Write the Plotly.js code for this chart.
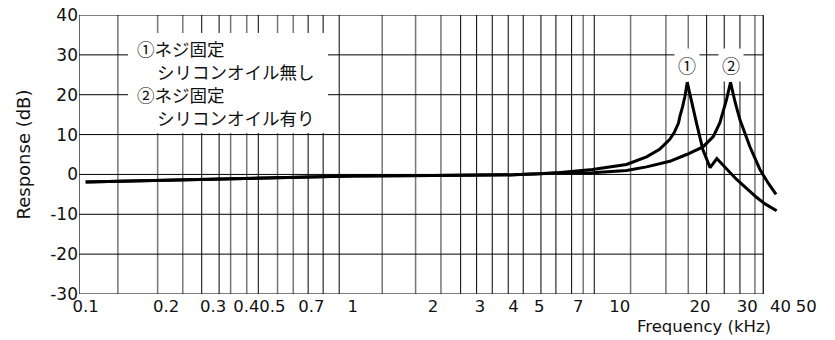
<!DOCTYPE html>
<html>
<head>
<meta charset="utf-8">
<script src="https://cdn.plot.ly/plotly-3.0.1.min.js"></script>
<style>html,body{margin:0;padding:0;background:#fff;}#chart{width:835px;height:340px;}</style>
</head>
<body>
<div id="chart"></div>
<script>
// ---- data ----
const freqNoOil = [0.1,0.2,0.3,0.5,0.7,1,2,3,4,5,6,7.9,10.6,12.6,14.1,15.4,16.0,16.6,16.8,17.2,17.55,17.9,18.6,19.4,20.5,21.8,23.1,27.4,30,32.6,35,38.7];
const respNoOil = [-1.9,-1.45,-1.2,-0.85,-0.6,-0.4,-0.3,-0.25,-0.1,0.15,0.5,1.25,2.5,4.4,6.3,8.8,10.5,12.9,14.6,17,19.6,23.1,17.8,12.8,6.1,1.7,4.0,-1.25,-3.6,-5.8,-7.4,-9.1];
const freqOil = [0.1,0.2,0.3,0.5,0.7,1,2,3,4,5,6,7.9,10.6,12.6,14.1,15.4,17.8,20.5,22.4,23.7,25.1,26.0,27.0,28.2,30.7,33.5,36,38.5];
const respOil = [-1.9,-1.45,-1.2,-0.85,-0.6,-0.4,-0.3,-0.25,-0.1,0.15,0.35,0.45,1.0,1.9,2.7,3.3,5.0,6.9,9.5,12.9,18.7,23.1,18.3,13.7,7.0,1.25,-2.2,-5];
const peakFreqs = [17.9, 26.0];
const peakLabels = ['①','②'];
const xTickVals = [0.1,0.2,0.3,0.4,0.5,0.7,1,2,3,4,5,7,10,20,30,40,50];
const xTickText = ['0.1','0.2','0.3','0.4','0.5','0.7','1','2','3','4','5','7','10','20','30','40','50'];
const yTickVals = [40,30,20,10,0,-10,-20,-30];
const yTickText = ['40','30','20','10','0','-10','-20','-30'];
const gridGray = [0.132,0.186,0.231,0.349,0.401,0.523,0.599,1.29,1.72,2.14,7.30,10.98,14.89,18.06,32.09];
const gridBlack = [0.272,0.316,0.443,0.681,0.775,0.890,2.536,2.911,3.331,3.823,4.351,5.069,5.768,6.604,8.027,21.16,24.62,28.20];
const gridY = [-20,-10,0,10,20,30];
const frameLeft = 0.0944;
const frameRight = 34.47;
const legendLines = ['①ネジ固定', 'シリコンオイル無し', '②ネジ固定', 'シリコンオイル有り'];
const legendIndent = [false, true, false, true];

// ---- build ----
const L = Math.log10;
const xMinLog = L(frameLeft), xMaxLog = 1.750;
const yMin = -30, yMax = 40;
const latin = 'DejaVu Sans, sans-serif';
const cjk = 'Noto Sans CJK JP, sans-serif';

const traces = [
  {x: freqNoOil, y: respNoOil, type: 'scatter', mode: 'lines', name: '①ネジ固定 シリコンオイル無し',
   line: {color: '#000', width: 3}, showlegend: false, hoverinfo: 'skip'},
  {x: freqOil, y: respOil, type: 'scatter', mode: 'lines', name: '②ネジ固定 シリコンオイル有り',
   line: {color: '#000', width: 3}, showlegend: false, hoverinfo: 'skip'}
];

const shapes = [];
gridGray.forEach(g => shapes.push({type: 'line', xref: 'x', yref: 'y', x0: g, x1: g, y0: yMin, y1: yMax,
  line: {color: '#777', width: 1.5}, layer: 'below'}));
gridBlack.forEach(g => shapes.push({type: 'line', xref: 'x', yref: 'y', x0: g, x1: g, y0: yMin, y1: yMax,
  line: {color: '#000', width: 1}, layer: 'below'}));
gridY.forEach(v => shapes.push({type: 'line', xref: 'x', yref: 'y', x0: frameLeft, x1: frameRight, y0: v, y1: v,
  line: {color: '#000', width: 1}, layer: 'below'}));
shapes.push({type: 'rect', xref: 'x', yref: 'y', x0: frameLeft, x1: frameRight, y0: yMin, y1: yMax,
  line: {color: '#000', width: 1.2}, fillcolor: 'rgba(0,0,0,0)', layer: 'below'});
// white legend panel
shapes.push({type: 'rect', xref: 'paper', yref: 'paper', x0: 0.0661, x1: 0.336, y0: 0.577, y1: 0.9355,
  line: {width: 0}, fillcolor: '#fff', layer: 'above'});

const annotations = [
  {xref: 'paper', yref: 'paper', x: 0.9366, y: -0.1147, xanchor: 'right', yanchor: 'middle',
   text: 'Frequency (kHz)', showarrow: false, font: {family: latin, size: 16.5, color: '#111'}}
];
const legendY = [0.8817, 0.7957, 0.7133, 0.6344];
legendLines.forEach((t, i) => annotations.push({xref: 'paper', yref: 'paper',
  x: legendIndent[i] ? 0.1026 : 0.0756, y: legendY[i], xanchor: 'left', yanchor: 'middle',
  text: t, showarrow: false, font: {family: cjk, size: 17.5, color: '#111'}}));
peakFreqs.forEach((f, i) => annotations.push({xref: 'x', yref: 'y', x: L(f), y: 27.5, text: peakLabels[i],
  showarrow: false, bgcolor: '#fff', borderpad: 3, font: {family: cjk, size: 18, color: '#111'}}));

const layout = {
  width: 835, height: 340,
  margin: {l: 79, r: 15, t: 15, b: 46},
  paper_bgcolor: '#fff', plot_bgcolor: '#fff',
  font: {family: latin, size: 17, color: '#111'},
  xaxis: {type: 'log', range: [xMinLog, xMaxLog], tickmode: 'array', tickvals: xTickVals, ticktext: xTickText,
    tickangle: 0, showgrid: false, zeroline: false, showline: false, ticks: '', automargin: false,
    tickfont: {family: latin, size: 16.5, color: '#111'}},
  yaxis: {range: [yMin, yMax], tickmode: 'array', tickvals: yTickVals, ticktext: yTickText,
    showgrid: false, zeroline: false, showline: false, ticks: '', automargin: false,
    tickfont: {family: latin, size: 17, color: '#111'},
    title: {text: 'Response (dB)', font: {family: latin, size: 18, color: '#111'}, standoff: 14}},
  shapes: shapes,
  annotations: annotations,
  showlegend: false
};

Plotly.newPlot('chart', traces, layout, {displayModeBar: false, staticPlot: true});
</script>
</body>
</html>
